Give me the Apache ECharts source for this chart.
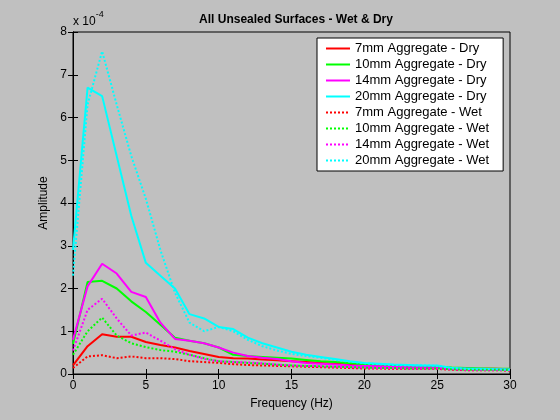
<!DOCTYPE html>
<html lang="en">
<head>
    <meta charset="UTF-8">
    <title>All Unsealed Surfaces - Wet & Dry</title>
    <script src="https://cdn.jsdelivr.net/npm/echarts@6/dist/echarts.min.js"></script>
	<style>
	  *{margin:0;padding:0}
	  html,body{width:100%;height:100%;background:#c0c0c0;}
	  #main{width:560px;height:420px;}
	</style>
</head>
<body>
<div id="main"></div>

<script>
    var chart = echarts.init(document.getElementById("main"));

    // frequency (Hz), amplitude in units of 1e-4
    var freqs = [0,1,2,3,4,5,6,7,8,9,10,11,12,13,14,15,16,17,18,19,20,21,22,23,24,25,26,27,28,29,30];
    var dry7  = [0.2,0.65,0.93,0.87,0.87,0.75,0.68,0.62,0.54,0.47,0.4,0.37,0.36,0.34,0.32,0.3,0.28,0.26,0.24,0.22,0.2,0.19,0.18,0.17,0.16,0.16,0.14,0.13,0.12,0.12,0.11];
    var dry10 = [0.7,2.15,2.18,2.0,1.7,1.45,1.15,0.85,0.78,0.72,0.62,0.45,0.42,0.4,0.38,0.36,0.33,0.3,0.28,0.25,0.22,0.2,0.19,0.18,0.17,0.17,0.15,0.14,0.13,0.12,0.12];
    var dry14 = [0.8,2.05,2.58,2.35,1.92,1.8,1.2,0.82,0.78,0.72,0.62,0.5,0.42,0.38,0.35,0.3,0.26,0.24,0.22,0.2,0.19,0.18,0.17,0.16,0.16,0.15,0.13,0.12,0.11,0.11,0.1];
    var dry20 = [2.9,6.7,6.5,5.1,3.7,2.6,2.3,2.0,1.4,1.3,1.1,1.05,0.85,0.72,0.62,0.52,0.45,0.4,0.35,0.3,0.26,0.24,0.22,0.21,0.2,0.2,0.14,0.12,0.12,0.11,0.1];
    var wet7  = [0.14,0.41,0.44,0.37,0.41,0.37,0.37,0.35,0.3,0.28,0.26,0.23,0.21,0.2,0.19,0.18,0.17,0.16,0.15,0.14,0.13,0.13,0.12,0.12,0.12,0.12,0.1,0.09,0.09,0.09,0.08];
    var wet10 = [0.45,1.0,1.32,0.9,0.72,0.63,0.56,0.52,0.45,0.37,0.3,0.28,0.26,0.24,0.22,0.2,0.19,0.18,0.17,0.16,0.15,0.14,0.14,0.13,0.13,0.13,0.11,0.1,0.1,0.1,0.09];
    var wet14 = [0.55,1.5,1.76,1.3,0.9,0.97,0.78,0.58,0.45,0.35,0.3,0.28,0.27,0.25,0.22,0.2,0.19,0.18,0.17,0.16,0.15,0.14,0.14,0.13,0.13,0.13,0.11,0.1,0.1,0.1,0.09];
    var wet20 = [2.3,6.3,7.55,6.3,5.1,4.1,2.9,1.9,1.2,1.0,1.1,1.0,0.8,0.65,0.55,0.47,0.42,0.38,0.33,0.29,0.25,0.23,0.21,0.2,0.2,0.19,0.14,0.12,0.11,0.11,0.1];

    var names = ['7mm Aggregate - Dry','10mm Aggregate - Dry','14mm Aggregate - Dry','20mm Aggregate - Dry',
                 '7mm Aggregate - Wet','10mm Aggregate - Wet','14mm Aggregate - Wet','20mm Aggregate - Wet'];
    var values = [dry7, dry10, dry14, dry20, wet7, wet10, wet14, wet20];
    var colors = ['#ff0000','#00ff00','#ff00ff','#00ffff'];

    var font = 'Liberation Sans, Arial, sans-serif';

    var series = values.map(function (v, i) {
        return {
            name: names[i],
            type: 'line',
            showSymbol: false,
            symbol: 'none',
            animation: false,
            data: freqs.map(function (f, k) { return [f, v[k]]; }),
            lineStyle: {
                color: colors[i % 4],
                width: 2,
                type: i < 4 ? 'solid' : 'dotted'
            },
            itemStyle: {color: colors[i % 4]}
        };
    });

    var tick = {inside: true, length: 5, lineStyle: {color: '#000'}};
    var line = {lineStyle: {color: '#000', width: 1}};

    option = {
        backgroundColor: '#c0c0c0',
        textStyle: {fontFamily: font},
        title: {
            text: 'All Unsealed Surfaces - Wet & Dry',
            left: 291, top: 9, textAlign: 'center',
            textStyle: {fontSize: 12, fontWeight: 'bold', color: '#000', fontFamily: font}
        },
        graphic: [{
            type: 'text', left: 73, top: 10,
            style: {
                text: '{a|x 10}{b|-4}',
                rich: {
                    a: {fontSize: 12, fontFamily: font, fill: '#000', verticalAlign: 'bottom', padding: [6, 0, 0, 0]},
                    b: {fontSize: 9, fontFamily: font, fill: '#000', verticalAlign: 'top'}
                }
            }
        }],
        legend: {
            orient: 'vertical',
            left: 317, top: 38,
            width: 185,
            padding: [4, 14, 4, 8],
            itemWidth: 24, itemHeight: 12, itemGap: 3,
            backgroundColor: '#fff',
            borderColor: '#000', borderWidth: 1,
            itemStyle: {opacity: 0},
            textStyle: {fontSize: 13, color: '#000', fontFamily: font},
            data: names
        },
        grid: {left: 73, right: 50, top: 32, bottom: 46, show: true, backgroundColor: '#c0c0c0', borderColor: '#000', borderWidth: 1},
        xAxis: [{
            type: 'value', min: 0, max: 30, interval: 5,
            name: 'Frequency (Hz)', nameLocation: 'middle', nameGap: 24,
            nameTextStyle: {fontSize: 12, color: '#000', fontFamily: font},
            axisLine: line, axisTick: tick, splitLine: {show: false},
            axisLabel: {fontSize: 12, color: '#000', margin: 6, fontFamily: font}
        }, {
            type: 'value', min: 0, max: 30, interval: 5, position: 'top',
            axisLine: line, axisTick: tick, splitLine: {show: false},
            axisLabel: {show: false}
        }],
        yAxis: [{
            type: 'value', min: 0, max: 8, interval: 1,
            name: 'Amplitude', nameLocation: 'middle', nameGap: 15, nameRotate: 90,
            nameTextStyle: {fontSize: 12, color: '#000', fontFamily: font},
            axisLine: line, axisTick: tick, splitLine: {show: false},
            axisLabel: {fontSize: 12, color: '#000', margin: 6, fontFamily: font}
        }, {
            type: 'value', min: 0, max: 8, interval: 1, position: 'right',
            axisLine: line, axisTick: tick, splitLine: {show: false},
            axisLabel: {show: false}
        }],
        series: series
    };
    chart.setOption(option);
</script>
</body>
</html>
